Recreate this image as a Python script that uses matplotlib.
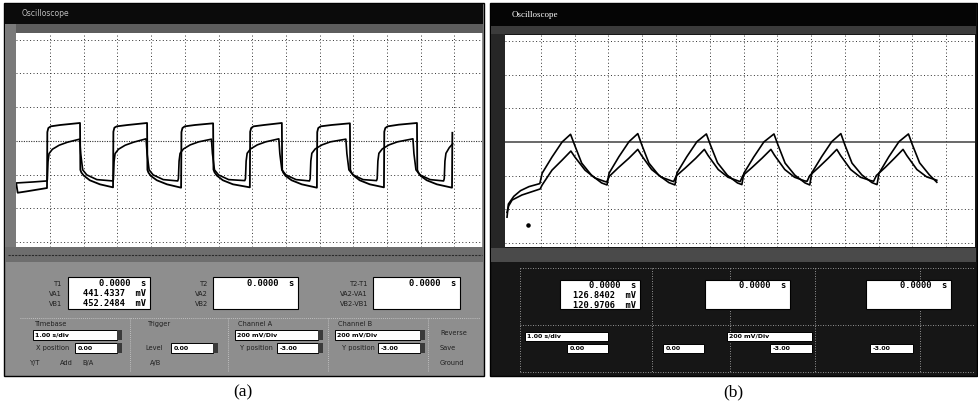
import matplotlib
matplotlib.use("Agg")
import matplotlib.pyplot as plt
from matplotlib.patches import Rectangle

# ---------------- data (time in divisions, voltage in divisions) ----------------
# Panel (a): square wave, channel A (large) and channel B (smaller, RC shaped)
a_large_t = [0.00, 0.04, 0.30, 0.91,
             0.92, 0.95, 1.02, 1.30, 1.89,
             1.90, 1.93, 2.00, 2.18, 2.48, 2.87,
             2.88, 2.91, 2.98, 3.30, 3.88,
             3.89, 3.92, 3.99, 4.17, 4.47, 4.89,
             4.90, 4.93, 5.00, 5.30, 5.84,
             5.85, 5.88, 5.95, 6.13, 6.43, 6.93,
             6.94, 6.97, 7.04, 7.35, 7.88,
             7.89, 7.92, 7.99, 8.17, 8.47, 8.92,
             8.93, 8.96, 9.03, 9.35, 9.90,
             9.91, 9.94, 10.01, 10.19, 10.49, 10.91,
             10.92, 10.95, 11.02, 11.35, 11.89,
             11.90, 11.93, 12.00, 12.18, 12.48, 12.93,
             12.94]
a_large_v = [-1.28, -1.54, -1.50, -1.40,
             0.26, 0.38, 0.43, 0.47, 0.53,
             -0.86, -0.94, -1.03, -1.17, -1.29, -1.38,
             0.27, 0.39, 0.43, 0.47, 0.53,
             -0.86, -0.94, -1.04, -1.17, -1.29, -1.39,
             0.26, 0.38, 0.43, 0.47, 0.52,
             -0.85, -0.93, -1.03, -1.17, -1.29, -1.38,
             0.27, 0.38, 0.43, 0.47, 0.53,
             -0.86, -0.94, -1.04, -1.17, -1.29, -1.39,
             0.26, 0.38, 0.43, 0.47, 0.52,
             -0.85, -0.93, -1.03, -1.17, -1.29, -1.38,
             0.27, 0.38, 0.43, 0.48, 0.53,
             -0.86, -0.94, -1.04, -1.17, -1.29, -1.39,
             0.24]

a_small_t = [0.00, 0.50, 0.91,
             0.92, 0.94, 0.97, 1.07, 1.27, 1.52, 1.88,
             1.91, 1.97, 2.09, 2.39, 2.86,
             2.88, 2.90, 2.93, 3.03, 3.23, 3.48, 3.85,
             3.88, 3.94, 4.06, 4.36, 4.79,
             4.81, 4.83, 4.86, 4.96, 5.16, 5.41, 5.79,
             5.82, 5.88, 6.00, 6.30, 6.78,
             6.80, 6.82, 6.85, 6.95, 7.15, 7.40, 7.79,
             7.82, 7.88, 8.00, 8.30, 8.70,
             8.72, 8.74, 8.77, 8.87, 9.07, 9.32, 9.78,
             9.81, 9.87, 9.99, 10.29, 10.69,
             10.71, 10.73, 10.76, 10.86, 11.06, 11.31, 11.77,
             11.80, 11.86, 11.98, 12.28, 12.68,
             12.70, 12.72, 12.75, 12.85, 12.95]
a_small_v = [-1.25, -1.22, -1.19,
             -1.15, -0.62, -0.38, -0.25, -0.13, -0.04, 0.05,
             -0.38, -0.86, -1.01, -1.15, -1.19,
             -1.15, -0.62, -0.38, -0.25, -0.13, -0.04, 0.06,
             -0.38, -0.86, -1.01, -1.15, -1.19,
             -1.12, -0.60, -0.37, -0.24, -0.12, -0.03, 0.05,
             -0.38, -0.86, -1.01, -1.15, -1.18,
             -1.12, -0.60, -0.37, -0.24, -0.12, -0.03, 0.06,
             -0.38, -0.86, -1.01, -1.15, -1.19,
             -1.12, -0.60, -0.37, -0.24, -0.12, -0.03, 0.05,
             -0.38, -0.86, -1.01, -1.15, -1.18,
             -1.12, -0.60, -0.37, -0.24, -0.12, -0.03, 0.06,
             -0.38, -0.86, -1.01, -1.15, -1.19,
             -1.12, -0.60, -0.37, -0.20, -0.09]

# Panel (b): exponential charge / discharge
b_large_t = [0.00, 0.04, 0.20, 0.40, 0.65, 0.97,
             1.04, 1.33, 1.63, 1.88,
             2.00, 2.21, 2.50, 2.80, 2.96,
             3.02, 3.31, 3.61, 3.87,
             3.99, 4.20, 4.49, 4.79, 4.97,
             5.03, 5.32, 5.62, 5.90,
             6.02, 6.23, 6.52, 6.82, 6.95,
             7.01, 7.30, 7.60, 7.90,
             8.02, 8.23, 8.52, 8.82, 8.96,
             9.02, 9.31, 9.61, 9.88,
             10.00, 10.21, 10.50, 10.80, 10.95,
             11.01, 11.30, 11.60, 11.88,
             12.00, 12.21, 12.50, 12.72]
b_large_v = [-2.24, -1.85, -1.62, -1.45, -1.33, -1.24,
             -0.93, -0.45, 0.00, 0.23,
             -0.09, -0.63, -0.99, -1.22, -1.28,
             -0.93, -0.44, 0.01, 0.25,
             -0.09, -0.63, -0.99, -1.21, -1.28,
             -0.92, -0.44, 0.01, 0.24,
             -0.09, -0.62, -0.99, -1.22, -1.27,
             -0.93, -0.45, 0.00, 0.24,
             -0.09, -0.63, -0.99, -1.22, -1.28,
             -0.92, -0.44, 0.01, 0.25,
             -0.09, -0.63, -0.98, -1.21, -1.27,
             -0.93, -0.44, 0.01, 0.24,
             -0.09, -0.62, -0.98, -1.20]

b_small_t = [0.00, 0.05, 0.15, 0.44, 0.89, 0.98,
             1.04, 1.33, 1.63, 1.89,
             2.01, 2.31, 2.60, 2.90, 2.95,
             3.03, 3.30, 3.60, 3.87,
             3.98, 4.28, 4.57, 4.87, 4.93,
             5.01, 5.28, 5.58, 5.84,
             5.95, 6.25, 6.54, 6.84, 6.90,
             6.98, 7.25, 7.55, 7.81,
             7.92, 8.22, 8.51, 8.81, 8.88,
             8.96, 9.22, 9.50, 9.76,
             9.87, 10.17, 10.46, 10.76, 10.85,
             10.93, 11.19, 11.46, 11.72,
             11.83, 12.13, 12.42, 12.72]
b_small_v = [-2.10, -1.90, -1.73, -1.58, -1.43, -1.40,
             -1.28, -0.84, -0.54, -0.27,
             -0.45, -0.84, -1.07, -1.18, -1.19,
             -1.02, -0.76, -0.49, -0.22,
             -0.40, -0.82, -1.05, -1.16, -1.18,
             -1.01, -0.77, -0.49, -0.22,
             -0.40, -0.82, -1.05, -1.16, -1.18,
             -1.00, -0.76, -0.48, -0.22,
             -0.40, -0.82, -1.05, -1.16, -1.17,
             -1.00, -0.76, -0.49, -0.22,
             -0.40, -0.82, -1.05, -1.15, -1.17,
             -1.00, -0.76, -0.49, -0.22,
             -0.40, -0.82, -1.04, -1.14]

b_stray_t = [0.62]
b_stray_v = [-2.46]

# readouts
a_read1 = ["0.0000  s", "441.4337  mV", "452.2484  mV"]
a_read2 = ["0.0000  s"]
a_read3 = ["0.0000  s"]
b_read1 = ["0.0000  s", "126.8402  mV", "120.9706  mV"]
b_read2 = ["0.0000  s"]
b_read3 = ["0.0000  s"]
timebase_txt = "1.00 s/div"
volt_txt = "200 mV/Div"
pos_vals = ["0.00", "0.00", "-3.00", "-3.00"]
panel_labels = ["(a)", "(b)"]

# ---------------- figure ----------------
W, H = 979, 409
fig = plt.figure(figsize=(W / 100, H / 100), dpi=100)
fig.patch.set_facecolor("white")

bg = fig.add_axes([0, 0, 1, 1], zorder=0)
bg.set_xlim(0, W)
bg.set_ylim(H, 0)
bg.axis("off")


def box(x0, y0, x1, y1, fc, ec="none", lw=0.8, ls="-", z=1):
    bg.add_patch(Rectangle((x0, y0), x1 - x0, y1 - y0, facecolor=fc,
                           edgecolor=ec, linewidth=lw, linestyle=ls, zorder=z))


mono = dict(family="DejaVu Sans Mono", fontweight="bold", fontsize=6.3, color="black")
small = dict(family="DejaVu Sans", fontsize=4.8)

# ---- panel (a) frame ----
box(4, 3, 484, 376, "#8e8e8e", ec="black", lw=1.0)
box(5, 4, 483, 24, "#0b0b0b")
box(5, 24, 483, 33, "#5d5d5d")
box(5, 24, 16, 252, "#7a7a7a")
box(5, 247, 483, 262, "#6e6e6e")
bg.plot([8, 482], [255, 255], color="#2a2a2a", lw=0.8, ls=(0, (2, 1)), zorder=2)
bg.text(22, 14, "Oscilloscope", color="#bdbdbd", fontsize=5.5, va="center", zorder=3)

# readout boxes (a)
for (x0, x1, lines) in [(68, 150, a_read1), (213, 298, a_read2), (373, 460, a_read3)]:
    box(x0, 277, x1, 309, "white", ec="black", lw=0.8, z=2)
    for i, s in enumerate(lines):
        bg.text(x1 - 4, 284 + i * 10, s, ha="right", va="center", zorder=3, **mono)
for x, labs in [(62, ["T1", "VA1", "VB1"]), (208, ["T2", "VA2", "VB2"]),
                (368, ["T2-T1", "VA2-VA1", "VB2-VB1"])]:
    for i, s in enumerate(labs):
        bg.text(x, 284 + i * 10, s, ha="right", va="center", color="#1e1e1e",
                zorder=3, **small)
# input boxes (a)
for x0, x1, s in [(33, 117, timebase_txt), (235, 318, volt_txt), (335, 420, volt_txt)]:
    box(x0, 330, x1, 340, "white", ec="black", lw=0.7, z=2)
    box(x1, 330, x1 + 5, 340, "#3a3a3a", z=2)
    bg.text(x0 + 2, 335, s, ha="left", va="center", fontsize=4.5,
            family="DejaVu Sans", fontweight="bold", zorder=3)
for (x0, x1), s in zip([(75, 117), (171, 213), (277, 318), (378, 420)], pos_vals):
    box(x0, 343, x1, 353, "white", ec="black", lw=0.7, z=2)
    box(x1, 343, x1 + 5, 353, "#3a3a3a", z=2)
    bg.text(x0 + 3, 348, s, ha="left", va="center", fontsize=4.5,
            family="DejaVu Sans", fontweight="bold", zorder=3)
for x, y, s in [(35, 324, "Timebase"), (148, 324, "Trigger"), (238, 324, "Channel A"),
                (338, 324, "Channel B"), (36, 348, "X position"), (145, 348, "Level"),
                (240, 348, "Y position"), (342, 348, "Y position"),
                (30, 363, "Y/T"), (60, 363, "Add"), (82, 363, "B/A"), (150, 363, "A/B"),
                (440, 333, "Reverse"), (440, 348, "Save"), (440, 363, "Ground")]:
    bg.text(x, y, s, ha="left", va="center", color="#202020", zorder=3, **small)
for x in [130, 228, 328, 428]:
    bg.plot([x, x], [318, 372], color="#d0d0d0", lw=0.6, ls=(0, (1, 1.5)), zorder=2)
bg.plot([20, 480], [318, 318], color="#d0d0d0", lw=0.6, ls=(0, (1, 1.5)), zorder=2)

# ---- panel (b) frame ----
box(490, 3, 977, 376, "#161616", ec="black", lw=1.0)
box(491, 4, 976, 28, "#050505")
box(491, 26, 976, 34, "#3b3b3b")
box(491, 34, 505, 250, "#262626")
box(491, 248, 976, 262, "#4a4a4a")
bg.text(512, 15, "Oscilloscope", color="white", fontsize=6.5, va="center",
        family="Liberation Serif", zorder=3)
for y in [268, 325, 372]:
    bg.plot([520, 975], [y, y], color="#bcbcbc", lw=0.6, ls=(0, (1, 2)), zorder=2)
for x in [520, 652, 730, 815, 920]:
    bg.plot([x, x], [268, 372], color="#bcbcbc", lw=0.6, ls=(0, (1, 2)), zorder=2)

for (x0, x1, lines) in [(560, 640, b_read1), (705, 790, b_read2), (866, 951, b_read3)]:
    box(x0, 280, x1, 309, "white", ec="black", lw=0.8, z=2)
    for i, s in enumerate(lines):
        bg.text(x1 - 4, 286 + i * 9.5, s, ha="right", va="center", zorder=3, **mono)
for x0, x1, s in [(525, 608, timebase_txt), (727, 812, volt_txt)]:
    box(x0, 332, x1, 341, "white", ec="black", lw=0.7, z=2)
    bg.text(x0 + 2, 336.5, s, ha="left", va="center", fontsize=4.5,
            family="DejaVu Sans", fontweight="bold", zorder=3)
for (x0, x1), s in zip([(567, 608), (663, 704), (770, 812), (870, 913)], pos_vals):
    box(x0, 344, x1, 353, "white", ec="black", lw=0.7, z=2)
    bg.text(x0 + 3, 348.5, s, ha="left", va="center", fontsize=4.5,
            family="DejaVu Sans", fontweight="bold", zorder=3)

# panel labels
bg.text(243, 392, panel_labels[0], ha="center", va="center", fontsize=12.5,
        family="Liberation Serif")
bg.text(733, 392, panel_labels[1], ha="center", va="center", fontsize=12.5,
        family="Liberation Serif")


# ---------------- oscilloscope screens ----------------
def screen(rect, xlim, ylim, solid_center):
    ax = fig.add_axes(rect, zorder=2)
    ax.set_facecolor("white")
    ax.set_xlim(*xlim)
    ax.set_ylim(*ylim)
    ax.set_xticks([])
    ax.set_yticks([])
    for sp in ax.spines.values():
        sp.set_visible(False)
    for k in range(1, 14):
        ax.axvline(k, color="#303030", lw=0.7, ls=(0, (1, 2.5)), zorder=1)
    for k in [-3, -2, -1, 1, 2, 3]:
        ax.axhline(k, color="#303030", lw=0.7, ls=(0, (1, 2.5)), zorder=1)
    if solid_center:
        ax.axhline(0, color="#404040", lw=1.1, zorder=1)
    else:
        ax.axhline(0, color="#303030", lw=0.8, ls=(0, (1, 1.2)), zorder=1)
    return ax


axA = screen([16 / W, 1 - 247 / H, 466 / W, 214 / H], (-0.01, 13.82), (-3.15, 3.20), False)
axA.plot(a_large_t, a_large_v, color="black", lw=1.3, zorder=3)
axA.plot(a_small_t, a_small_v, color="black", lw=1.2, zorder=3)

axB = screen([505 / W, 1 - 247 / H, 470 / W, 212 / H], (-0.06, 13.85), (-3.13, 3.19), True)
axB.plot(b_large_t, b_large_v, color="black", lw=1.2, zorder=3)
axB.plot(b_small_t, b_small_v, color="black", lw=1.2, zorder=3)
axB.scatter(b_stray_t, b_stray_v, s=5, color="black", zorder=3)

fig.savefig("out.png", dpi=100)
